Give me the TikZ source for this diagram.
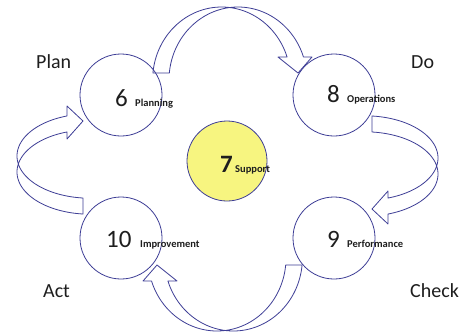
\documentclass[tikz,border=0pt]{standalone}
\usepackage{fontspec}
\setmainfont{Carlito}
\definecolor{navy}{RGB}{62,62,150}
\definecolor{ylw}{RGB}{247,245,128}
\definecolor{txt}{RGB}{30,30,30}
\begin{document}
\begin{tikzpicture}[x=1pt,y=-1pt,
  circ/.style={draw=navy,line width=0.8pt,circle,minimum size=82pt,inner sep=0pt},
  arr/.style={draw=navy,line width=0.8pt,line join=round},
  big/.style={anchor=base west,inner sep=0pt,text=txt,font=\fontsize{25}{25}\selectfont},
  small/.style={anchor=base west,inner sep=0pt,text=txt,font=\fontsize{10.5}{11}\selectfont\bfseries},
  lab/.style={anchor=base west,inner sep=0pt,text=txt,font=\fontsize{20}{20}\selectfont}]
\useasboundingbox (0,0) rectangle (463,333);
\fill[white] (0,0) rectangle (463,333);
% circles
\node[circ] (c6) at (121,95) {};
\node[circ] (c8) at (334,95) {};
\node[circ] (c10) at (121,238) {};
\node[circ] (c9) at (334,238) {};
\node[circ,fill=ylw,minimum size=80pt] (c7) at (227,161) {};
% top arrow (6 -> 8)
\draw[arr] plot[domain=174.5:18.4,samples=60] ({221.6+69*cos(\x)},{80-73*sin(\x)})
  -- (278,57) -- (298,73) -- (312,57)
  -- plot[domain=18.4:174.5,samples=60] ({238+69*cos(\x)},{80-73*sin(\x)}) -- cycle;
% bottom arrow (9 -> 10)
\begin{scope}[rotate around={180:(227.5,169)}]
\draw[arr] plot[domain=174.5:18.4,samples=60] ({221.6+69*cos(\x)},{80-73*sin(\x)})
  -- (278,57) -- (298,73) -- (312,57)
  -- plot[domain=18.4:174.5,samples=60] ({238+69*cos(\x)},{80-73*sin(\x)}) -- cycle;
\end{scope}
% left arrow (10 -> 6)
\draw[arr] plot[domain=264.5:108.4,samples=60] ({90+73*cos(\x)},{172-42.2*sin(\x)})
  -- (67,139) -- (83,121) -- (67,106)
  -- plot[domain=108.4:264.5,samples=60] ({90+73*cos(\x)},{156-42.2*sin(\x)}) -- cycle;
% right arrow (8 -> 9)
\begin{scope}[rotate around={180:(227.5,165)}]
\draw[arr] plot[domain=264.5:108.4,samples=60] ({90+73*cos(\x)},{172-42.2*sin(\x)})
  -- (67,139) -- (83,121) -- (67,106)
  -- plot[domain=108.4:264.5,samples=60] ({90+73*cos(\x)},{156-42.2*sin(\x)}) -- cycle;
\end{scope}
% texts
\node[big] (t6) at (115,106) {6};
\node[small] (s6) at (135,106) {Planning};
\node[big] (t8) at (327,102) {8};
\node[small] (s8) at (347,102) {Operations};
\node[big] (t10) at (106,247) {10};
\node[small] (s10) at (140,247) {Improvement};
\node[big] (t9) at (327,247) {9};
\node[small] (s9) at (347,247) {Performance};
\node[big,font=\fontsize{25}{25}\selectfont\bfseries] (t7) at (220,172) {7};
\node[small] (s7) at (235,172) {Support};
% labels
\node[lab] (plan) at (36,68) {Plan};
\node[lab] (do) at (411,68) {Do};
\node[lab] (act) at (43,297) {Act};
\node[lab] (check) at (410,297) {Check};
\end{tikzpicture}
\end{document}
